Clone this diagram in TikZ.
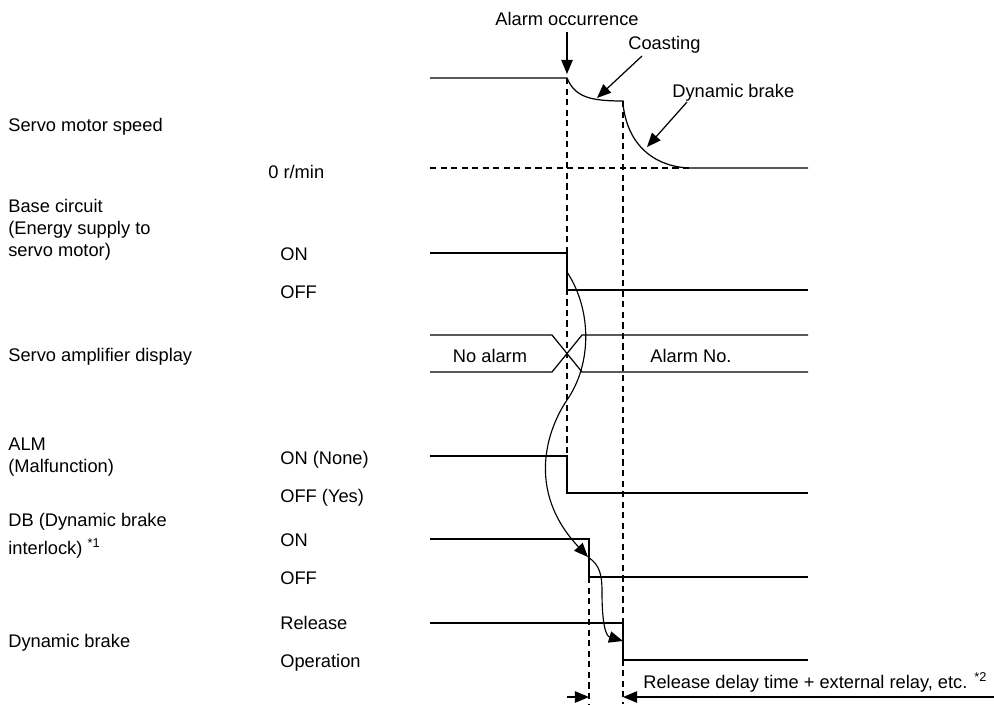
\documentclass[tikz,border=0pt]{standalone}
\usepackage{fontspec}
\setmainfont{Liberation Sans}
\usetikzlibrary{arrows.meta, positioning, calc}

\begin{document}
\begin{tikzpicture}[
		x=0.02cm, y=-0.02cm,
		font=\fontsize{10.4}{12.5}\selectfont,
		sig/.style={line width=0.7pt},
		guide/.style={line width=0.6pt, dash pattern=on 3.5pt off 2.5pt},
		lab/.style={anchor=base west, inner sep=0pt, align=left},
		cause/.style={line width=0.65pt, ->},
		>={Triangle[length=8pt,width=6.5pt]}
	]
	\useasboundingbox (0,0) rectangle (994,704);

	% Time points: alarm at x=567, DB off at x=589, brake engaged at x=623.
	% Signal rows run from x=430 to x=808 (pixel grid, y downwards).

	% --- signal names (left column) ---
	\node[lab] (speedlab) at (8,131) {Servo motor speed};
	\node[lab] (baselab) at (8,256) {Base circuit\\(Energy supply to\\servo motor)};
	\node[lab] (displab) at (8,361) {Servo amplifier display};
	\node[lab] (almlab) at (8,472) {ALM\\(Malfunction)};
	\node[lab] (dblab) at (8,554) {DB (Dynamic brake\\[3.4pt]interlock) \textsuperscript{*1}};
	\node[lab] (brklab) at (8,647) {Dynamic brake};

	% --- level names (middle column) ---
	\node[lab] (zerolab) at (268,178) {0 r/min};
	\node[lab] (baseon) at (280,260) {ON};
	\node[lab] (baseoff) at (280,298) {OFF};
	\node[lab] (almon) at (280,464) {ON (None)};
	\node[lab] (almoff) at (280,502) {OFF (Yes)};
	\node[lab] (dbonlab) at (280,546) {ON};
	\node[lab] (dbofflab) at (280,584) {OFF};
	\node[lab] (brkrel) at (280,629) {Release};
	\node[lab] (brkop) at (280,667) {Operation};

	% --- servo motor speed: coast, then dynamic brake down to 0 r/min ---
	\draw[guide] (430,168) -- (692,168);
	\draw[sig] (430,78) -- (567,78)
		.. controls (575,97) and (590,101) .. (623,101) -- (623,104)
		.. controls (628,150) and (660,168) .. (692,168) -- (808,168);

	% --- base circuit ---
	\draw[sig] (430,253) -- (567,253) -- (567,290) -- (808,290);

	% --- display: bus crossing centred on the alarm line ---
	\draw[sig] (430,335) -- (552,335) -- (582,372) -- (808,372);
	\draw[sig] (430,372) -- (552,372) -- (582,335) -- (808,335);
	\node[inner sep=0pt, anchor=base] (noalarm) at (490,362) {No alarm};
	\node[lab] (alarmno) at (650,362) {Alarm No.};

	% --- ALM, DB, dynamic brake ---
	\draw[sig] (430,456) -- (567,456) -- (567,493) -- (808,493);
	\draw[sig] (430,539) -- (589,539) -- (589,577) -- (808,577);
	\draw[sig] (430,623) -- (623,623) -- (623,660) -- (808,660);

	% --- vertical guides ---
	\draw[guide] (567,78) -- (567,456);
	\draw[guide] (623,101) -- (623,704);
	\draw[guide] (589,577) -- (589,704);

	% --- callouts above the speed trace ---
	\node[inner sep=0pt, anchor=base] (alarmlab) at (567,25) {Alarm occurrence};
	\coordinate (alarmfrom) at (567,32);
	\coordinate (alarmto) at (567,74);
	\draw[sig, ->] (alarmfrom) -- (alarmto);

	\node[lab] (coastlab) at (628,49) {Coasting};
	\coordinate (coastfrom) at (642,56);
	\coordinate (coastto) at (597,98);
	\draw[sig, ->] (coastfrom) -- (coastto);

	\node[lab] (dynlab) at (672,97) {Dynamic brake};
	\coordinate (dynfrom) at (687,102);
	\coordinate (dynto) at (647,147);
	\draw[sig, ->] (dynfrom) -- (dynto);

	% --- cause chain: base circuit off -> DB off -> brake operates ---
	\coordinate (basedrop) at (567,272);
	\coordinate (dbdrop) at (588,557);
	\coordinate (brkdrop) at (623,641);
	\draw[cause] (basedrop) .. controls (592,310) and (592,364) .. (567,400)
		.. controls (548,428) and (525,490) .. (dbdrop);
	\draw[cause] (dbdrop) .. controls (600,565) and (602,575) .. (602,592)
		.. controls (602,625) and (606,636) .. (brkdrop);

	% --- delay dimension at the bottom ---
	\coordinate (dimleft) at (567,697);
	\coordinate (dimdb) at (589,697);
	\coordinate (dimbrk) at (623,697);
	\coordinate (dimright) at (994,697);
	\draw[sig, ->] (dimleft) -- (dimdb);
	\draw[sig, ->] (dimright) -- (dimbrk);
	\node[lab] (delaylab) at (643,688) {Release delay time + external relay, etc. \textsuperscript{*2}};
\end{tikzpicture}
\end{document}
